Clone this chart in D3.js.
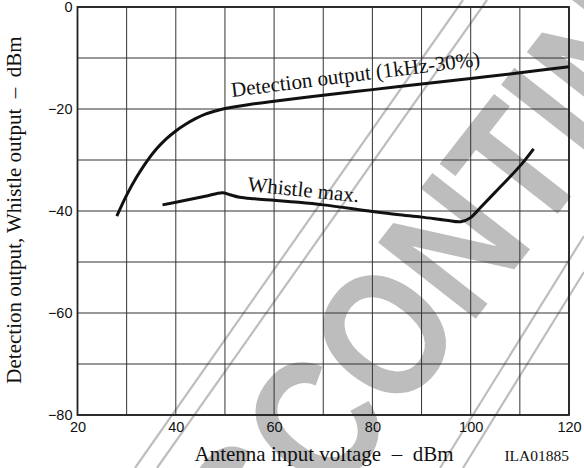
<!DOCTYPE html>
<html>
<head>
<meta charset="utf-8">
<script src="https://cdn.jsdelivr.net/npm/d3@7"></script>
<style>
  body { margin: 0; background: #fff; }
  svg { display: block; }
</style>
</head>
<body>
<script>
// detection output (1kHz-30%) curve
const detX = [28, 30, 32, 34, 36, 38, 40, 42, 44, 46, 48, 50, 55, 60, 70, 80, 90, 100, 110, 120];
const detY = [-41, -36.9, -33.4, -30.4, -27.9, -25.9, -24.3, -23, -21.9, -21, -20.4, -19.9, -19.1, -18.5, -17.3, -16.2, -15.1, -14, -12.9, -11.7];

// whistle max. curve
const whX = [37.3, 42, 46, 49.5, 51, 53, 56, 60, 65, 70, 80, 85, 90, 95, 98, 100, 102, 105, 110, 112.8];
const whY = [-38.8, -37.9, -37.1, -36.4, -36.8, -37.3, -37.6, -37.9, -38.3, -38.8, -40.1, -40.7, -41.2, -41.8, -42.1, -41.3, -39.3, -36.3, -31.2, -27.8];

const xLabels = [20, 40, 60, 80, 100, 120];
const yLabels = [0, -20, -40, -60, -80];
const xGrid = d3.range(20, 121, 10);
const yGrid = d3.range(-80, 1, 10);

const width = 584, height = 468;
const margin = {top: 7, right: 15, bottom: 53, left: 77.5};

const svg = d3.select("body").append("svg")
    .attr("width", width)
    .attr("height", height);

const x = d3.scaleLinear().domain([20, 120]).range([margin.left, width - margin.right]);
const y = d3.scaleLinear().domain([-80, 0]).range([height - margin.bottom, margin.top]);

// watermark (drawn first, under everything)
const wm = svg.append("g").attr("fill", "#bdbdbd").attr("stroke", "#bdbdbd");
const wmLines = [[135, 468, 463, 0], [157, 468, 487, 0], [440, 468, 584, 236], [463, 468, 584, 272]];
wm.selectAll("line").data(wmLines).join("line")
    .attr("x1", d => d[0]).attr("y1", d => d[1])
    .attr("x2", d => d[2]).attr("y2", d => d[3])
    .attr("stroke-width", 2.2);
wm.append("text")
    .attr("transform", "translate(177,701) rotate(-52) scale(1,1.2)")
    .attr("stroke", "none")
    .style("font", "bold 150px 'Liberation Sans', Arial, sans-serif")
    .text("DISCONTINUED");

// grid
const grid = svg.append("g").attr("stroke", "#333").attr("stroke-width", 1);
grid.selectAll(".vx").data(xGrid).join("line")
    .attr("x1", d => x(d)).attr("x2", d => x(d))
    .attr("y1", y(0)).attr("y2", y(-80));
grid.selectAll(".hy").data(yGrid).join("line")
    .attr("y1", d => y(d)).attr("y2", d => y(d))
    .attr("x1", x(20)).attr("x2", x(120));

svg.append("rect")
    .attr("x", x(20)).attr("y", y(0))
    .attr("width", x(120) - x(20)).attr("height", y(-80) - y(0))
    .attr("fill", "none").attr("stroke", "#222").attr("stroke-width", 1.8);

// axes (labels only)
const fmt = d => d < 0 ? "\u2212" + Math.abs(d) : String(d);
const xAxis = svg.append("g")
    .attr("transform", `translate(0,${y(-80)})`)
    .call(d3.axisBottom(x).tickValues(xLabels).tickSize(0).tickPadding(7).tickFormat(fmt));
const yAxis = svg.append("g")
    .attr("transform", `translate(${x(20)},0)`)
    .call(d3.axisLeft(y).tickValues(yLabels).tickSize(0).tickPadding(5).tickFormat(fmt));
[xAxis, yAxis].forEach(a => {
  a.select(".domain").remove();
  a.selectAll("text")
      .attr("fill", "#111")
      .style("font", "14.5px 'Liberation Sans', Arial, sans-serif");
});

// curves
const line = d3.line().x(d => x(d[0])).y(d => y(d[1])).curve(d3.curveCatmullRom);
svg.append("path")
    .datum(detX.map((v, i) => [v, detY[i]]))
    .attr("d", line)
    .attr("fill", "none").attr("stroke", "#111").attr("stroke-width", 3);
svg.append("path")
    .datum(whX.map((v, i) => [v, whY[i]]))
    .attr("d", line)
    .attr("fill", "none").attr("stroke", "#111").attr("stroke-width", 3);

const serif = "'Liberation Serif', 'Times New Roman', serif";
svg.append("text")
    .attr("transform", "translate(232,97) rotate(-7.2)")
    .attr("fill", "#111")
    .style("font", `21px ${serif}`)
    .text("Detection output (1kHz-30%)");
svg.append("text")
    .attr("transform", "translate(247,191) rotate(5.8)")
    .attr("fill", "#111")
    .style("font", `21px ${serif}`)
    .text("Whistle max.");

// axis titles
svg.append("text")
    .attr("x", 324).attr("y", 461)
    .attr("text-anchor", "middle")
    .attr("fill", "#111")
    .style("font", `21px ${serif}`)
    .text("Antenna input voltage\u00a0\u00a0\u2013\u00a0\u00a0dBm");
svg.append("text")
    .attr("transform", "translate(21,210) rotate(-90)")
    .attr("text-anchor", "middle")
    .attr("fill", "#111")
    .style("font", `21px ${serif}`)
    .text("Detection output, Whistle output\u00a0\u00a0\u2013\u00a0\u00a0dBm");
svg.append("text")
    .attr("x", 569).attr("y", 461)
    .attr("text-anchor", "end")
    .attr("fill", "#111")
    .style("font", `15.5px ${serif}`)
    .text("ILA01885");
</script>
</body>
</html>
